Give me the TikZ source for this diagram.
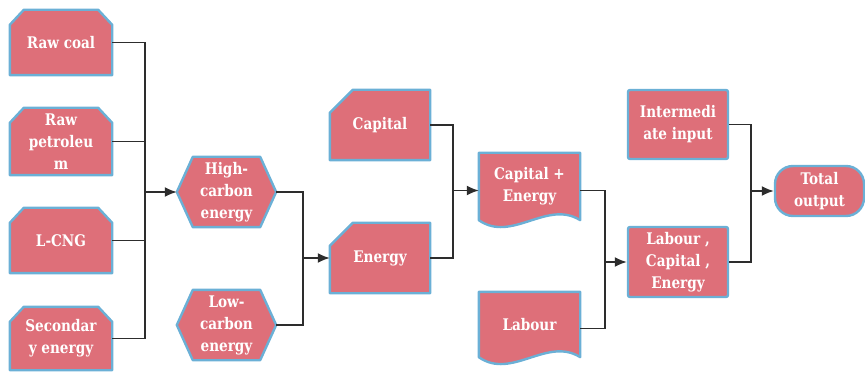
\documentclass[tikz,border=0pt]{standalone}
\usepackage{fontspec}
\newfontfamily\bxf{DejaVu Serif}[FakeStretch=0.85]
\usetikzlibrary{arrows.meta,calc}
\definecolor{boxfill}{RGB}{222,111,121}
\definecolor{boxline}{RGB}{107,176,214}
\definecolor{conn}{RGB}{45,45,45}
\pgfdeclarelayer{bg}
\pgfsetlayers{bg,main}
\newcommand\chamtwo[1]{\draw[outline] ([yshift=-15]#1.north west) -- ([xshift=14]#1.north west) -- ([xshift=-14]#1.north east) -- ([yshift=-15]#1.north east) -- (#1.south east) -- (#1.south west) -- cycle;}
\newcommand\chamone[1]{\draw[outline] ([yshift=-23]#1.north west) -- ([xshift=23]#1.north west) -- (#1.north east) -- (#1.south east) -- (#1.south west) -- cycle;}
\newcommand\hexa[1]{\draw[outline] (#1.west) -- ([xshift=16]#1.north west) -- ([xshift=-16]#1.north east) -- (#1.east) -- ([xshift=-16]#1.south east) -- ([xshift=16]#1.south west) -- cycle;}
\newcommand\docu[1]{\draw[outline] (#1.north west) -- (#1.north east) -- ($(#1.south east)+(0,-8)$) .. controls ($(#1.south east)+(-33,-29)$) and ($(#1.south west)+(33,15)$) .. ($(#1.south west)+(0,-8)$) -- cycle;}
\begin{document}
\begin{tikzpicture}[x=1pt,y=-1pt,
  txt/.style={inner sep=0pt,text=white,font=\bxf\bfseries\fontsize{16}{22}\selectfont,align=center},
  box/.style={txt},
  rbox/.style={txt,draw=boxline,fill=boxfill,line width=2.4pt,rounded corners=2pt},
  outline/.style={draw=boxline,fill=boxfill,line width=2.4pt,line join=round},
  ln/.style={draw=conn,line width=1.8pt},
  arr/.style={ln,-{Latex[length=12pt,width=10pt]}}]
\useasboundingbox (0,0) rectangle (865,374);
% nodes
\node[box,minimum width=102,minimum height=65] (rc) at (61,42.5) {Raw coal};
\node[box,minimum width=102,minimum height=67] (rp) at (61,141.5) {Raw\\petroleu\\m};
\node[box,minimum width=102,minimum height=65] (lc) at (61,240.5) {L-CNG};
\node[box,minimum width=102,minimum height=63] (se) at (61,338.5) {Secondar\\y energy};
\node[box,minimum width=99,minimum height=70] (hc) at (226.5,192) {High-\\carbon\\energy};
\node[box,minimum width=99,minimum height=70] (lo) at (226.5,325) {Low-\\carbon\\energy};
\node[box,minimum width=100,minimum height=70] (cap) at (380,125) {Capital};
\node[box,minimum width=100,minimum height=70] (en) at (380,258) {Energy};
\node[box,minimum width=101,minimum height=75] (ce) at (529.5,190.5) {};
\node[txt] (cet) at (529.5,186.5) {Capital +\\Energy};
\node[box,minimum width=101,minimum height=73] (lab) at (529.5,328.5) {};
\node[txt] (labt) at (529.5,325) {Labour};
\node[rbox,minimum width=100,minimum height=69] (ii) at (678,124.5) {Intermedi\\ate input};
\node[rbox,minimum width=100,minimum height=70] (lce) at (678,262) {Labour ,\\Capital ,\\Energy};
\node[rbox,rounded corners=18pt,minimum width=89,minimum height=50] (to) at (819.5,191) {Total\\output};
\begin{pgfonlayer}{bg}
\chamtwo{rc}\chamtwo{rp}\chamtwo{lc}\chamtwo{se}
\hexa{hc}\hexa{lo}
\chamone{cap}\chamone{en}
\docu{ce}\docu{lab}
\end{pgfonlayer}
% connectors
\coordinate (j1) at (145,192);
\coordinate (j2) at (303,258);
\coordinate (j3) at (453,190.5);
\coordinate (j4) at (605,262);
\coordinate (j5) at (751,191);
\draw[ln] (rc.east) -| (j1) |- (se.east);
\draw[ln] (rp.east) -- (rp.east -| j1);
\draw[ln] (lc.east) -- (lc.east -| j1);
\draw[arr] (j1) -- (hc.west);
\draw[ln] (hc.east) -| (j2) |- (lo.east);
\draw[arr] (j2) -- (en.west);
\draw[ln] (cap.east) -| (j3) |- (en.east);
\draw[arr] (j3) -- (ce.west);
\draw[ln] (ce.east) -| (j4) |- (lab.east);
\draw[arr] (j4) -- (lce.west);
\draw[ln] (ii.east) -| (j5) |- (lce.east);
\draw[arr] (j5) -- (to.west);
\end{tikzpicture}
\end{document}
